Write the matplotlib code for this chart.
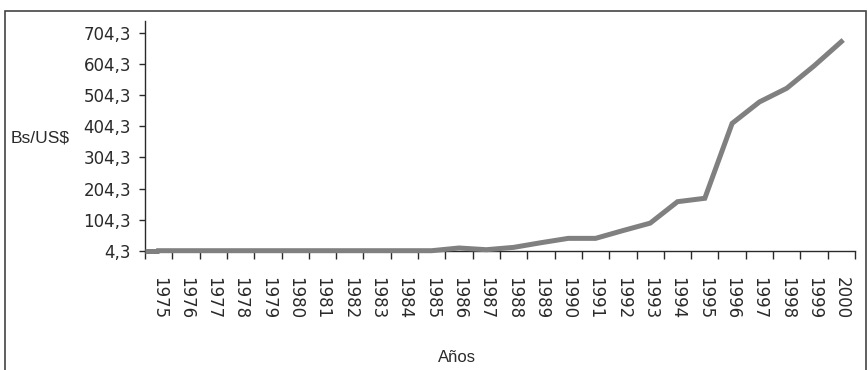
import numpy as np
import matplotlib.pyplot as plt
from matplotlib.patches import Rectangle
from matplotlib.ticker import FixedLocator, NullFormatter

# Tipo de cambio anual (Bs/US$)
years = list(range(1975, 2001))
rate = [4.3, 4.3, 4.3, 4.3, 4.3, 4.3, 4.3, 4.3, 4.3, 4.3, 4.3,
        13.0, 7.5, 15.0, 30.0, 44.0, 44.0, 69.0, 93.0, 162.0, 173.0,
        414.0, 483.0, 527.0, 599.0, 677.0]
y_ticks = [4.3, 104.3, 204.3, 304.3, 404.3, 504.3, 604.3, 704.3]

txt = '#2a2a2a'
fig = plt.figure(figsize=(8.68, 3.70), dpi=100)
ax = fig.add_axes([145 / 868, 119.3 / 370, 710 / 868, 230 / 370])

x = np.arange(len(years))
ax.plot(x, rate, color='#808080', lw=3.6, solid_joinstyle='miter', clip_on=False, zorder=3)
# tramo inicial pegado al eje vertical
ax.hlines(rate[0], -0.5, 0, color='#808080', lw=3.6, zorder=3, clip_on=False)

ax.set_xlim(-0.5, len(years) - 0.5)
ax.set_ylim(4.3, 744.5)

# marcas en los bordes de cada categoría, etiquetas al centro
ax.xaxis.set_major_locator(FixedLocator(np.arange(-0.5, len(years), 1.0)))
ax.xaxis.set_major_formatter(NullFormatter())
ax.xaxis.set_minor_locator(FixedLocator(x))
ax.set_xticklabels([str(y) for y in years], minor=True, rotation=-90,
                   fontsize=12, va='top', ha='center', color=txt)
ax.tick_params(axis='x', which='major', length=6, width=1, direction='out', color=txt)
ax.tick_params(axis='x', which='minor', length=0, pad=19)

ax.set_yticks(y_ticks)
ax.set_yticklabels([f"{v:.1f}".replace('.', ',') for v in y_ticks], fontsize=12, color=txt)
ax.tick_params(axis='y', length=4, width=1, direction='out', pad=6, color=txt)

for side in ['top', 'right']:
    ax.spines[side].set_visible(False)
for side in ['left', 'bottom']:
    ax.spines[side].set_color(txt)
    ax.spines[side].set_linewidth(1)

fig.text(40 / 868, 1 - 138 / 370, 'Bs/US$', fontsize=12.5, ha='center', va='center',
         family='Liberation Sans', color=txt)
fig.text(457 / 868, 1 - 357 / 370, 'Años', fontsize=12, ha='center', va='center',
         family='Liberation Sans', color=txt)

# marco exterior
fig.patches.append(Rectangle((5 / 868, -0.05), 861 / 868, 1.05 - 10.5 / 370,
                             transform=fig.transFigure, fill=False,
                             edgecolor='#444444', lw=1.2))

fig.savefig('out.png', dpi=100)
